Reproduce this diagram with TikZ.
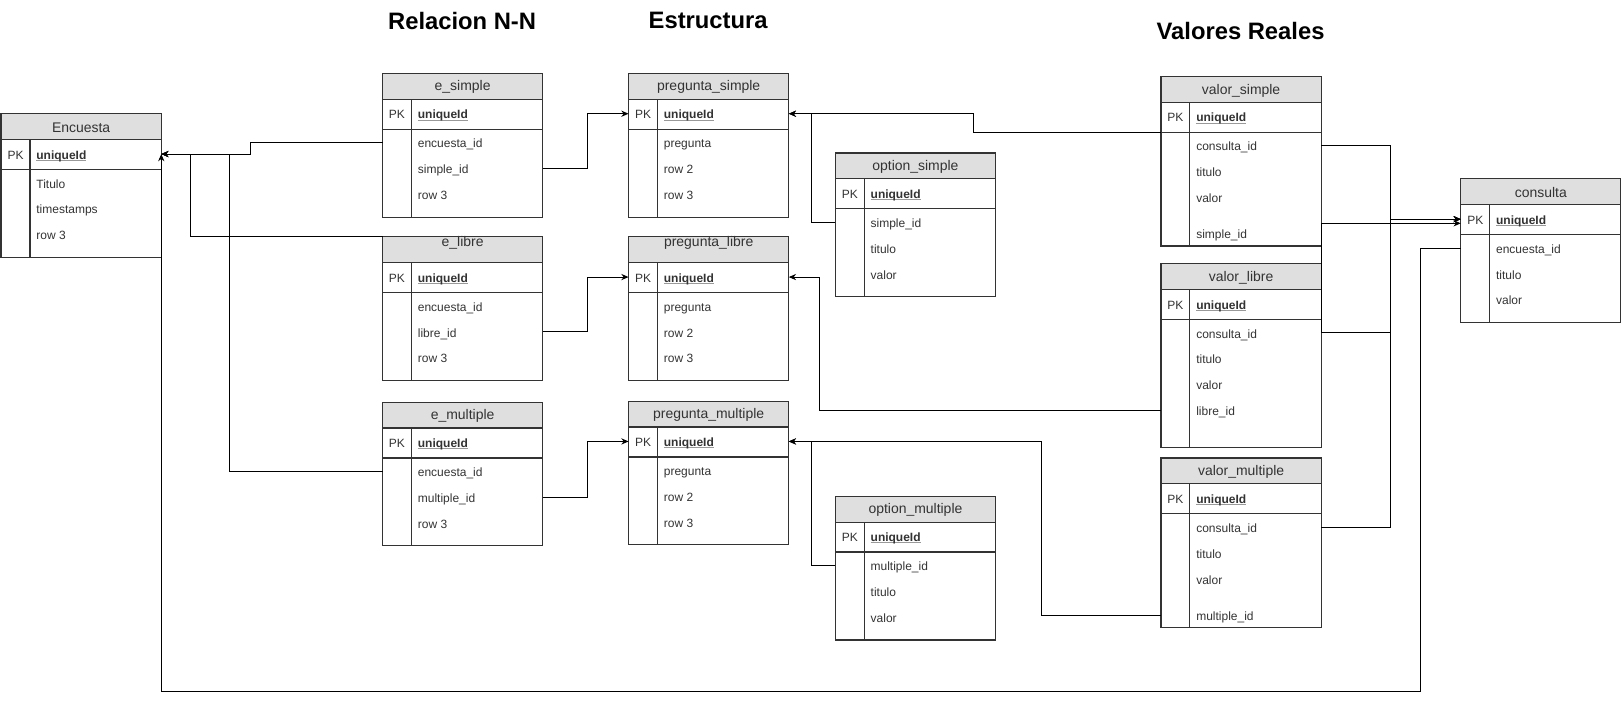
\documentclass[tikz,border=0pt]{standalone}
\usepackage{fontspec}
\setmainfont{Liberation Sans}
\usetikzlibrary{calc}
\usetikzlibrary{arrows.meta,positioning}
\definecolor{hdrgray}{HTML}{DFDFDF}
\definecolor{inkgray}{HTML}{333333}
\newcommand{\rowsize}{\fontsize{11.6}{13}\selectfont}
\newcommand{\hdrsize}{\fontsize{13.5}{15}\selectfont}
\newlength{\pkw}
\newcommand{\pkname}{\settowidth{\pkw}{\textbf{uniqueId}}\rlap{\color{black!40}\rule[-1.6pt]{\pkw}{0.9pt}}\textbf{uniqueId}}
\tikzset{
  tbl/.style={draw=inkgray, line width=1.1pt, minimum width=155pt, inner sep=0pt, outer sep=0pt, anchor=north west},
  tblline/.style={draw=inkgray, line width=1.1pt},
  hdr/.style={fill=hdrgray},
  hdrtext/.style={font=\hdrsize, text=inkgray, inner sep=0pt, yshift=-1.5pt},
  rowtext/.style={font=\rowsize, text=inkgray, inner sep=0pt, text height=11pt, text depth=1pt},
  link/.style={->, line width=0.9pt},
  ttl/.style={font=\fontsize{23}{27}\selectfont\bfseries}
}
% #1 title offset, #2 name, #3 x, #4 y, #5 title, #6 height, #7 rows
\newcommand{\erdtable}[7][12]{
  \fill[hdr] (#3,#4) rectangle ++(155,25);
  \node[hdrtext] (#2-t) at (#3+77.5,#4+#1) {#5};
  \node[tbl, minimum height=#6pt] (#2) at (#3,#4) {};
  \draw[tblline] (#3,#4+25) -- ++(155,0) (#3,#4+54) -- ++(155,0) (#3+28,#4+25) -- (#3+28,#4+#6);
  \node[rowtext] at (#3+14,#4+39) {PK};
  \node[rowtext, anchor=west] (#2-pk) at (#3+34,#4+39) {\pkname};
  \foreach \dy/\txt [count=\i] in {#7}
    \node[rowtext, anchor=west] (#2-\i) at (#3+34,#4+\dy) {\txt};
}

\begin{document}
\begin{tikzpicture}[x=1pt, y=-1pt, >={Stealth[length=7pt,width=6pt]}]
    \useasboundingbox (0,0) rectangle (1568,680);
    \node[ttl] (t-nn) at (447,20) {Relacion N-N};
    \node[ttl] (t-est) at (685,20) {Estructura};
    \node[ttl] (t-val) at (1200,30) {Valores Reales};

    \erdtable{enc}{1}{110}{Encuesta}{139}{67/Titulo,92/timestamps,117/row 3}
    \erdtable{esim}{370}{71}{e\_simple}{139}{67/encuesta\_id,92/simple\_id,117/row 3}
    \erdtable[4]{elib}{370}{229}{e\_libre}{139}{67/encuesta\_id,92/libre\_id,117/row 3}
    \erdtable{emul}{370}{389}{e\_multiple}{139}{67/encuesta\_id,92/multiple\_id,117/row 3}
    \erdtable{psim}{608}{71}{pregunta\_simple}{139}{67/pregunta,92/row 2,117/row 3}
    \erdtable[4]{plib}{608}{229}{pregunta\_libre}{139}{67/pregunta,92/row 2,117/row 3}
    \erdtable{pmul}{608}{388}{pregunta\_multiple}{139}{67/pregunta,92/row 2,117/row 3}
    \erdtable{osim}{808}{148}{option\_simple}{139}{67/simple\_id,92/titulo,117/valor}
    \erdtable{omul}{808}{480}{option\_multiple}{139}{67/multiple\_id,92/titulo,117/valor}
    \erdtable{vsim}{1123}{74}{valor\_simple}{164}{67/consulta\_id,92/titulo,117/valor,152/simple\_id}
    \erdtable{vlib}{1123}{255}{valor\_libre}{178}{67/consulta\_id,92/titulo,117/valor,142/libre\_id}
    \erdtable{vmul}{1123}{443}{valor\_multiple}{164}{67/consulta\_id,92/titulo,117/valor,152/multiple\_id}
    \erdtable{cons}{1413}{173}{consulta}{139}{67/encuesta\_id,92/titulo,117/valor}

    \draw[link] (esim-1 -| esim.west) -- ++(-128,0) |- (enc-pk -| enc.east);
    \draw[link] (elib.north west) -- ++(-186,0) |- (enc-pk -| enc.east);
    \draw[link] (emul-1 -| emul.west) -- ++(-148,0) |- (enc-pk -| enc.east);
    \draw[link] (cons-1 -| cons.west) -| (1374,669) -| (enc-pk -| enc.east);

    \draw[link] (esim-2 -| esim.east) -- ++(43,0) |- (psim-pk -| psim.west);
    \draw[link] (elib-2 -| elib.east) -- ++(43,0) |- (plib-pk -| plib.west);
    \draw[link] (emul-2 -| emul.east) -- ++(43,0) |- (pmul-pk -| pmul.west);

    \draw[link] (osim-1 -| osim.west) -- ++(-23,0) |- (psim-pk -| psim.east);
    \draw[link] ([yshift=-54pt]vsim.north west) -- ++(-181,0) |- (psim-pk -| psim.east);
    \draw[link] (vlib-4 -| vlib.west) -- ++(-330,0) |- (plib-pk -| plib.east);
    \draw[link] (vmul-4 -| vmul.west) -- ++(-116,0) |- (pmul-pk -| pmul.east);
    \draw[link] (omul-1 -| omul.west) -- ++(-23,0) |- (pmul-pk -| pmul.east);

    \draw[link] (vsim-1 -| vsim.east) -- ++(67,0) |- (cons-pk -| cons.west);
    \draw[link] (vlib-1 -| vlib.east) -- ++(67,0) |- (cons-pk -| cons.west);
    \draw[link] (vmul-1 -| vmul.east) -- ++(67,0) |- (cons-pk -| cons.west);
    \draw[link] (vlib-1 -| vlib.east) |- ($(cons-pk -| cons.west)+(0,4)$);
\end{tikzpicture}
\end{document}
